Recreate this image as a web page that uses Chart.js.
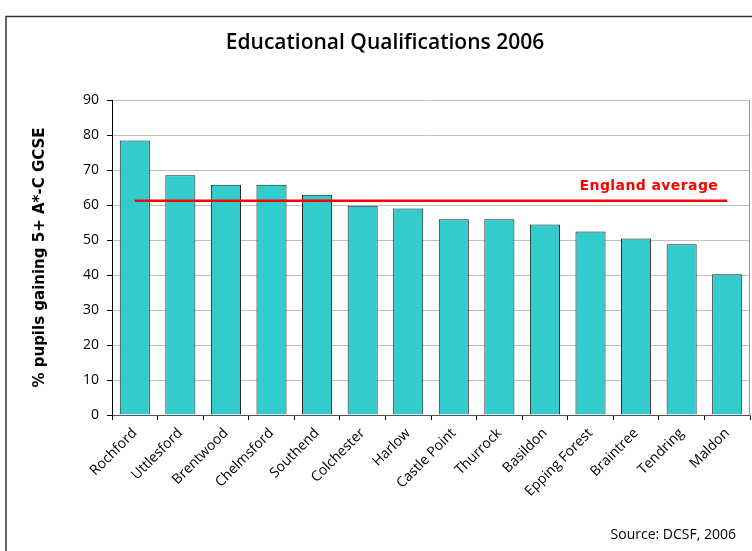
<!DOCTYPE html>
<html>
<head>
<meta charset="utf-8">
<script src="https://cdn.jsdelivr.net/npm/chart.js@4/dist/chart.umd.min.js"></script>
<style>
html,body{margin:0;padding:0;background:#fff;}
#wrap{width:752px;height:551px;position:relative;}
</style>
</head>
<body>
<div id="wrap"><canvas id="eduChart" width="752" height="551"></canvas></div>
<script>
const districts = ['Rochford','Uttlesford','Brentwood','Chelmsford','Southend','Colchester','Harlow',
  'Castle Point','Thurrock','Basildon','Epping Forest','Braintree','Tendring','Maldon'];
const pctGCSE = [78.4,68.5,65.8,65.8,62.9,59.8,59.0,55.9,55.9,54.4,52.4,50.4,48.8,40.2];
const englandAverage = 61.2;
const yTicks = [0,10,20,30,40,50,60,70,80,90];

const FONT = "'Open Sans', 'DejaVu Sans', sans-serif";
const WIDE = "'DejaVu Sans', Verdana, sans-serif";

// title, source note, outer frame, plot border and the average label
const decorations = {
  id:'decorations',
  afterDraw(chart){
    const {ctx, chartArea, scales} = chart;
    ctx.save();
    ctx.strokeStyle = '#333';
    ctx.lineWidth = 1.5;
    ctx.strokeRect(6, 16.5, 900, 700);

    ctx.strokeStyle = '#999';
    ctx.lineWidth = 1;
    ctx.beginPath();
    ctx.moveTo(Math.round(chartArea.right)-0.5, chartArea.top);
    ctx.lineTo(Math.round(chartArea.right)-0.5, chartArea.bottom);
    ctx.stroke();

    ctx.fillStyle = '#000';
    ctx.font = "600 21px " + FONT;
    ctx.textAlign = 'center';
    ctx.textBaseline = 'middle';
    ctx.fillText('Educational Qualifications 2006', 385, 43);

    ctx.font = "14px " + FONT;
    ctx.textAlign = 'right';
    ctx.fillText('Source: DCSF, 2006', 736, 535);

    const yPix = scales.y.getPixelForValue(englandAverage);
    const xEnd = scales.x.getPixelForValue(districts.length-1);
    ctx.fillStyle = '#ff0000';
    ctx.font = "bold 14px " + WIDE;
    ctx.letterSpacing = '0.4px';
    ctx.textBaseline = 'alphabetic';
    ctx.fillText('England average', xEnd-9, yPix-11);
    ctx.restore();
  }
};

new Chart(document.getElementById('eduChart').getContext('2d'), {
  data:{
    labels: districts,
    datasets:[
      {type:'line', data: districts.map(()=>englandAverage),
       borderColor:'#ff0000', borderWidth:2.5, pointRadius:0, fill:false, order:0},
      {type:'bar', data: pctGCSE, backgroundColor:'#33cccc', borderColor:'#1a1a1a',
       borderWidth:1, barPercentage:0.66, categoryPercentage:1, order:1}
    ]
  },
  options:{
    responsive:false, animation:false,
    layout:{padding:{left:0, right:2, top:100, bottom:40}},
    plugins:{legend:{display:false}, tooltip:{enabled:false}, title:{display:false}},
    scales:{
      x:{
        offset:true,
        grid:{offset:true, drawOnChartArea:false, drawTicks:true, tickLength:5, tickColor:'#000'},
        border:{color:'#555'},
        ticks:{color:'#000', font:{family:FONT, size:14}, maxRotation:45, minRotation:45, padding:5,
               autoSkip:false},
        afterFit(s){ s.height = 96; }
      },
      y:{
        min:0, max:90,
        afterBuildTicks(s){ s.ticks = yTicks.map(v=>({value:v})); },
        grid:{color:'#c0c0c0', tickLength:5, tickColor:'#000'},
        border:{color:'#000'},
        ticks:{color:'#000', font:{family:FONT, size:14}, padding:8},
        title:{display:true, text:'% pupils gaining 5+ A*-C GCSE', color:'#000',
               font:{family:WIDE, size:15, weight:'bold'}, padding:{top:31, bottom:0}},
        afterFit(s){ s.width = 112; }
      }
    }
  },
  plugins:[decorations]
});
</script>
</body>
</html>
